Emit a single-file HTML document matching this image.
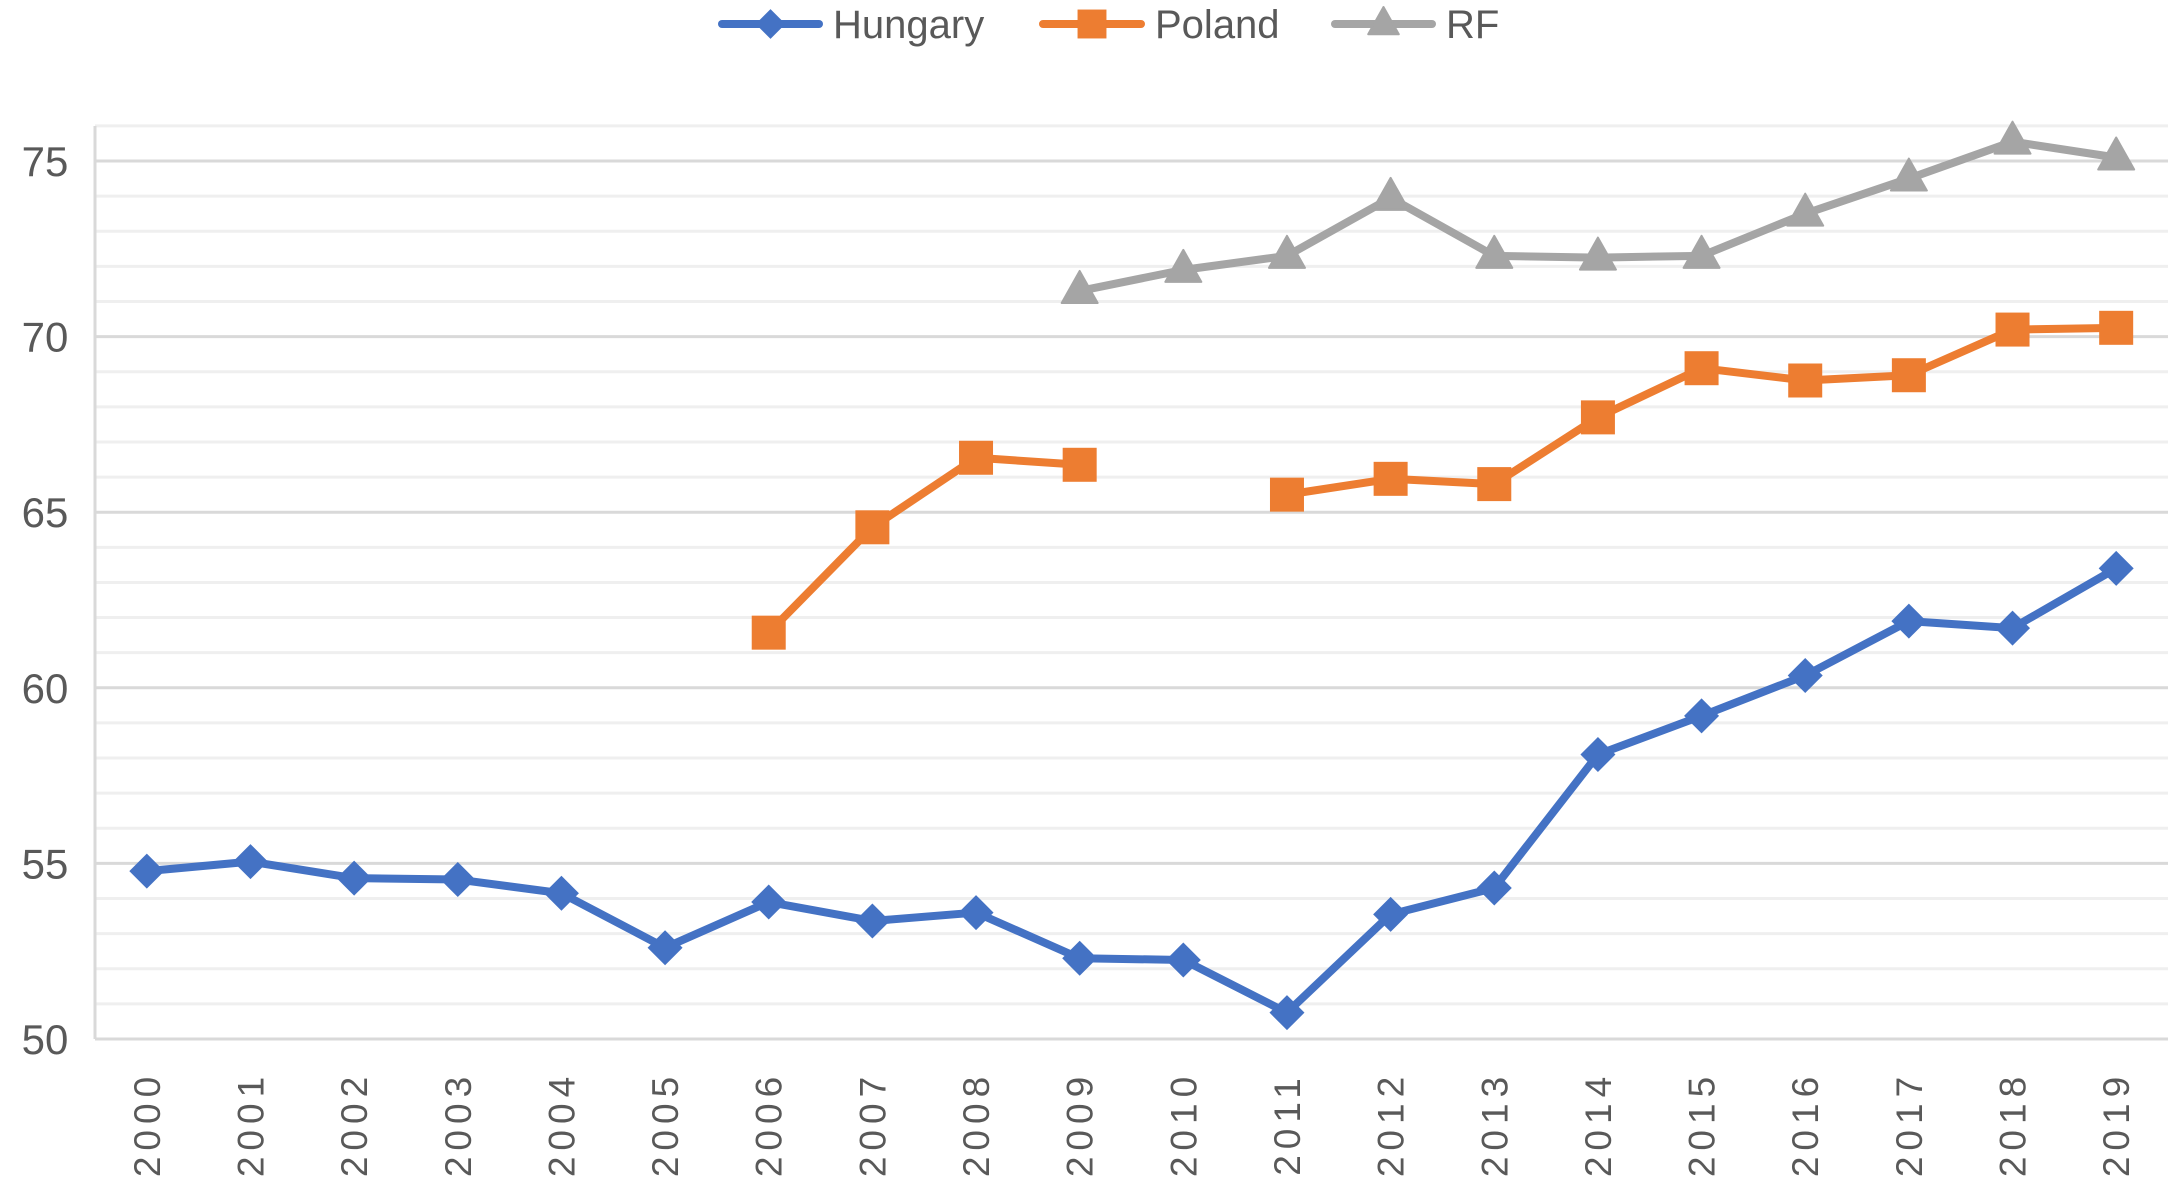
<!DOCTYPE html>
<html><head><meta charset="utf-8"><style>
html,body{margin:0;padding:0;background:#fff;}
svg{display:block;font-family:"Liberation Sans",sans-serif;}
</style></head><body>
<svg id="chart" width="2176" height="1184" viewBox="0 0 2176 1184" xmlns="http://www.w3.org/2000/svg">
<g id="grid"></g>
<g id="axes"></g>
<g id="series"></g>
<g id="legend"></g>
</svg>
<script>
const years = ["2000","2001","2002","2003","2004","2005","2006","2007","2008","2009","2010","2011","2012","2013","2014","2015","2016","2017","2018","2019"];
const hungary = [54.78,55.05,54.58,54.54,54.15,52.6,53.9,53.36,53.6,52.3,52.25,50.75,53.55,54.3,58.1,59.2,60.35,61.9,61.7,63.4];
const poland = [null,null,null,null,null,null,61.57,64.57,66.55,66.35,null,65.5,65.95,65.8,67.7,69.1,68.75,68.9,70.2,70.25];
const rf = [null,null,null,null,null,null,null,null,null,71.3,71.9,72.3,73.95,72.3,72.25,72.3,73.5,74.5,75.55,75.1];
const yTicks = [50,55,60,65,70,75];
const seriesNames = ["Hungary","Poland","RF"];

const NS="http://www.w3.org/2000/svg";
const L=95,R=2168,T=126,Y75=161,Y50=1039;
const yMin=50,yMax=75;
function y(v){return Y50-(v-yMin)/(yMax-yMin)*(Y50-Y75);}
const band=(R-L)/years.length;
function x(i){return L+band*(i+0.5);}
function mk(tag,attrs,parent){const e=document.createElementNS(NS,tag);for(const k in attrs)e.setAttribute(k,attrs[k]);parent.appendChild(e);return e;}
const grid=document.getElementById('grid'),axes=document.getElementById('axes'),ser=document.getElementById('series'),leg=document.getElementById('legend');

for(let v=yMin;v<=yMax+1;v++){
  if(v%5===0)continue;
  const g=mk('line',{x1:L,x2:R,y1:y(v),y2:y(v),stroke:'#efefef','stroke-width':3},grid);
  
  
}
yTicks.forEach(v=>{
  const g=mk('line',{x1:L,x2:R,y1:y(v),y2:y(v),stroke:'#d9d9d9','stroke-width':3},grid);
  
  
  const t=mk('text',{x:45,y:y(v)+15,'font-size':42,fill:'#595959','text-anchor':'middle'},axes);
  t.textContent=v;
  
  
});
const ax=mk('line',{x1:L,x2:L,y1:T,y2:Y50,stroke:'#d9d9d9','stroke-width':3},axes);


years.forEach((yr,i)=>{
  const t=mk('text',{x:0,y:0,'font-size':37,fill:'#595959','text-anchor':'middle','letter-spacing':'6',transform:`translate(${x(i)+13},1124) rotate(-90)`},axes);
  t.textContent=yr;
  
  
});

const colors=['#4472C4','#ED7D31','#A5A5A5'];
function marker(type,cx,cy,color,parent,s){
  s=s||1;
  let e;
  if(type===0){const r=17.5*s;e=mk('polygon',{points:`${cx},${cy-r} ${cx+r},${cy} ${cx},${cy+r} ${cx-r},${cy}`,fill:color},parent);}
  else if(type===1){const h=17*s;e=mk('rect',{x:cx-h,y:cy-h,width:2*h,height:2*h,fill:color},parent);}
  else {const w=18*s;e=mk('polygon',{points:`${cx},${cy-20*s} ${cx+w},${cy+12*s} ${cx-w},${cy+12*s}`,fill:color,'stroke':color,'stroke-width':2,'stroke-linejoin':'round'},parent);}
  return e;
}
[hungary,poland,rf].forEach((data,si)=>{
  const g=mk('g',{},ser);
  
  
  let d='',pen=false;
  data.forEach((v,i)=>{
    if(v==null){pen=false;return;}
    d+=(pen?'L':'M')+x(i)+','+y(v)+' ';pen=true;
  });
  const p=mk('path',{d:d,fill:'none',stroke:colors[si],'stroke-width':8,'stroke-linejoin':'round','stroke-linecap':'round'},g);
  
  
  data.forEach((v,i)=>{
    if(v==null)return;
    const m=marker(si,x(i),y(v),colors[si],g);
    
    
  });
});

const legX=[[722,819,833],[1043,1141,1155],[1335,1432,1446]];
seriesNames.forEach((n,si)=>{
  const g=mk('g',{},leg);
  
  
  mk('line',{x1:legX[si][0],x2:legX[si][1],y1:24,y2:24,stroke:colors[si],'stroke-width':8,'stroke-linecap':'round'},g);
  marker(si,(legX[si][0]+legX[si][1])/2,24,colors[si],g,0.85);
  const t=mk('text',{x:legX[si][2],y:38,'font-size':40,fill:'#595959'},g);
  t.textContent=n;
  
  
});
</script>
</body></html>
